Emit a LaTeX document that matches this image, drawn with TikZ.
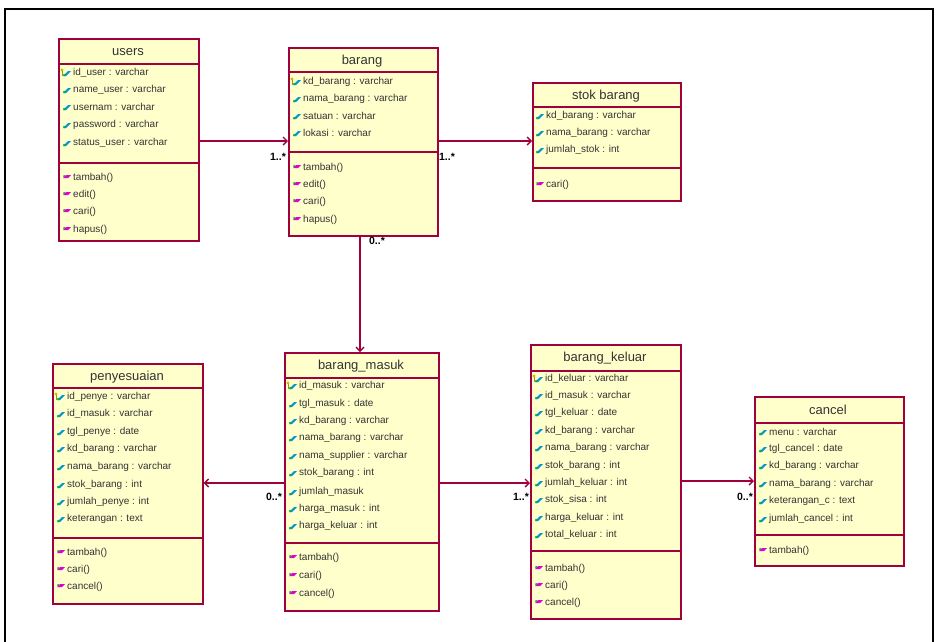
\documentclass[tikz,border=0pt]{standalone}
\usepackage{fontspec}
\setmainfont{Liberation Sans}
\usetikzlibrary{arrows.meta}

\definecolor{boxfill}{RGB}{255,255,204}
\definecolor{boxline}{RGB}{160,0,60}
\definecolor{attrc}{RGB}{0,150,210}
\definecolor{methc}{RGB}{225,0,210}
\definecolor{dotg}{RGB}{20,170,60}
\definecolor{keyc}{RGB}{200,190,0}

\tikzset{
  cls/.style={draw=boxline, fill=boxfill, line width=1.7pt, anchor=north west, inner sep=0pt},
  sep/.style={draw=boxline, line width=1.7pt},
  title/.style={font=\fontsize{13}{14}\selectfont, anchor=center, inner sep=0pt, text=black!80},
  txt/.style={font=\fontsize{10}{11}\selectfont, anchor=west, inner sep=0pt, text=black!80},
  assoc/.style={draw=boxline, line width=1.4pt, -{Straight Barb[length=4pt,width=8pt]}},
  mult/.style={font=\bfseries\fontsize{10.5}{11}\selectfont, inner sep=0pt, text=black}
}

% attribute / method / key entries: name, x, y, text
\newcommand\attrrow[4]{%
  \fill[attrc] (#2,#3+3) -- (#2+3,#3+3) -- (#2+8,#3-2) -- (#2+5,#3-2) -- cycle;
  \fill[dotg] (#2+1.2,#3+2) circle (1.3);
  \node[txt] (#1) at (#2+10,#3) {#4};}
\newcommand\keyrow[4]{%
  \fill[keyc] (#2-1,#3-3) circle (1.6);
  \draw[keyc!80!black, line width=0.8pt] (#2-1,#3-2) -- (#2-1,#3+3);
  \attrrow{#1}{#2}{#3}{#4}}
\newcommand\methrow[4]{%
  \fill[methc] (#2,#3) -- (#2+3,#3-3) -- (#2+8,#3-3) -- (#2+5,#3) -- cycle;
  \fill[dotg] (#2+1.2,#3-2) circle (1.2);
  \node[txt] (#1) at (#2+10,#3) {#4};}

\begin{document}
\begin{tikzpicture}[x=1pt, y=-1pt]
\useasboundingbox (0,0) rectangle (936,641);
\clip (0,0) rectangle (936,641);
\fill[white] (0,0) rectangle (936,641);
% outer frame
\draw[black, line width=2.2pt] (5,9) rectangle (933,660);

% ---------- users ----------
\node[cls, minimum width=140pt, minimum height=202pt] (users) at (58,38) {};
\draw[sep] (58,64) -- (198,64);
\draw[sep] (58,163) -- (198,163);
\node[title] (usersT) at (128,52) {users};
\keyrow{u1}{63}{73}{id\_user : varchar}
\attrrow{u2}{63}{90}{name\_user : varchar}
\attrrow{u3}{63}{107}{usernam : varchar}
\attrrow{u4}{63}{125}{password : varchar}
\attrrow{u5}{63}{143}{status\_user : varchar}
\methrow{u6}{63}{178}{tambah()}
\methrow{u7}{63}{195}{edit()}
\methrow{u8}{63}{212}{cari()}
\methrow{u9}{63}{230}{hapus()}

% ---------- barang ----------
\node[cls, minimum width=149pt, minimum height=188pt] (barang) at (288,47) {};
\draw[sep] (288,72) -- (437,72);
\draw[sep] (288,152) -- (437,152);
\node[title] (barangT) at (362,61) {barang};
\keyrow{b1}{293}{82}{kd\_barang : varchar}
\attrrow{b2}{293}{99}{nama\_barang : varchar}
\attrrow{b3}{293}{116}{satuan : varchar}
\attrrow{b4}{293}{133}{lokasi : varchar}
\methrow{b5}{293}{168}{tambah()}
\methrow{b6}{293}{185}{edit()}
\methrow{b7}{293}{202}{cari()}
\methrow{b8}{293}{220}{hapus()}

% ---------- stok barang ----------
\node[cls, minimum width=148pt, minimum height=118pt] (stok) at (532,82) {};
\draw[sep] (532,107) -- (680,107);
\draw[sep] (532,168) -- (680,168);
\node[title] (stokT) at (606,96) {stok barang};
\attrrow{s1}{536}{116}{kd\_barang : varchar}
\attrrow{s2}{536}{133}{nama\_barang : varchar}
\attrrow{s3}{536}{150}{jumlah\_stok : int}
\methrow{s4}{536}{185}{cari()}

% ---------- penyesuaian ----------
\node[cls, minimum width=150pt, minimum height=240pt] (penyesuaian) at (52,363) {};
\draw[sep] (52,388) -- (202,388);
\draw[sep] (52,538) -- (202,538);
\node[title] (penyT) at (127,377) {penyesuaian};
\keyrow{p1}{57}{397}{id\_penye : varchar}
\attrrow{p2}{57}{414}{id\_masuk : varchar}
\attrrow{p3}{57}{432}{tgl\_penye : date}
\attrrow{p4}{57}{449}{kd\_barang : varchar}
\attrrow{p5}{57}{467}{nama\_barang : varchar}
\attrrow{p6}{57}{485}{stok\_barang : int}
\attrrow{p7}{57}{502}{jumlah\_penye : int}
\attrrow{p8}{57}{519}{keterangan : text}
\methrow{p9}{57}{553}{tambah()}
\methrow{p10}{57}{570}{cari()}
\methrow{p11}{57}{587}{cancel()}

% ---------- barang_masuk ----------
\node[cls, minimum width=154pt, minimum height=258pt] (masuk) at (284,352) {};
\draw[sep] (284,378) -- (438,378);
\draw[sep] (284,543) -- (438,543);
\node[title] (masukT) at (361,366) {barang\_masuk};
\keyrow{m1}{289}{386}{id\_masuk : varchar}
\attrrow{m2}{289}{404}{tgl\_masuk : date}
\attrrow{m3}{289}{421}{kd\_barang : varchar}
\attrrow{m4}{289}{438}{nama\_barang : varchar}
\attrrow{m5}{289}{456}{nama\_supplier : varchar}
\attrrow{m6}{289}{473}{stok\_barang : int}
\attrrow{m7}{289}{492}{jumlah\_masuk}
\attrrow{m8}{289}{509}{harga\_masuk : int}
\attrrow{m9}{289}{526}{harga\_keluar : int}
\methrow{m10}{289}{558}{tambah()}
\methrow{m11}{289}{576}{cari()}
\methrow{m12}{289}{594}{cancel()}

% ---------- barang_keluar ----------
\node[cls, minimum width=150pt, minimum height=274pt] (keluar) at (530,344) {};
\draw[sep] (530,371) -- (680,371);
\draw[sep] (530,551) -- (680,551);
\node[title] (keluarT) at (605,358) {barang\_keluar};
\keyrow{k1}{535}{379}{id\_keluar : varchar}
\attrrow{k2}{535}{396}{id\_masuk : varchar}
\attrrow{k3}{535}{413}{tgl\_keluar : date}
\attrrow{k4}{535}{431}{kd\_barang : varchar}
\attrrow{k5}{535}{448}{nama\_barang : varchar}
\attrrow{k6}{535}{466}{stok\_barang : int}
\attrrow{k7}{535}{483}{jumlah\_keluar : int}
\attrrow{k8}{535}{500}{stok\_sisa : int}
\attrrow{k9}{535}{518}{harga\_keluar : int}
\attrrow{k10}{535}{535}{total\_keluar : int}
\methrow{k11}{535}{569}{tambah()}
\methrow{k12}{535}{586}{cari()}
\methrow{k13}{535}{603}{cancel()}

% ---------- cancel ----------
\node[cls, minimum width=149pt, minimum height=169pt] (cancel) at (754,396) {};
\draw[sep] (754,423) -- (903,423);
\draw[sep] (754,535) -- (903,535);
\node[title] (cancelT) at (828,410) {cancel};
\attrrow{c1}{759}{432}{menu : varchar}
\attrrow{c2}{759}{449}{tgl\_cancel : date}
\attrrow{c3}{759}{466}{kd\_barang : varchar}
\attrrow{c4}{759}{484}{nama\_barang : varchar}
\attrrow{c5}{759}{501}{keterangan\_c : text}
\attrrow{c6}{759}{519}{jumlah\_cancel : int}
\methrow{c7}{759}{551}{tambah()}

% ---------- associations ----------
\coordinate (yTop) at (0,141);
\coordinate (xMid) at (360,0);
\coordinate (yBot) at (0,483);
\coordinate (yCan) at (0,481);
\draw[assoc] (users.east |- yTop) -- (barang.west |- yTop);
\draw[assoc] (barang.east |- yTop) -- (stok.west |- yTop);
\draw[assoc] (xMid |- barang.south) -- (xMid |- masuk.north);
\draw[assoc] (masuk.west |- yBot) -- (penyesuaian.east |- yBot);
\draw[assoc] (masuk.east |- yBot) -- (keluar.west |- yBot);
\draw[assoc] (keluar.east |- yCan) -- (cancel.west |- yCan);

% multiplicities
\node[mult] (n1) at (278,157) {1..*};
\node[mult] (n2) at (447,157) {1..*};
\node[mult] (n3) at (377,241) {0..*};
\node[mult] (n4) at (274,497) {0..*};
\node[mult] (n5) at (521,497) {1..*};
\node[mult] (n6) at (745,497) {0..*};
\end{tikzpicture}
\end{document}
